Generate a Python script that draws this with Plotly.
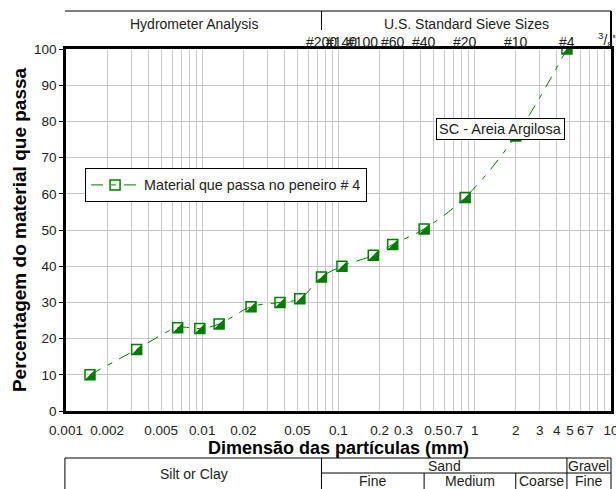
import math
import plotly.graph_objects as go

# Grain-size distribution (sieve + hydrometer)
diameter_mm = [0.0015, 0.0033, 0.0066, 0.0096, 0.0133, 0.0228, 0.0372, 0.052,
               0.075, 0.106, 0.18, 0.25, 0.425, 0.85, 2.0, 4.75]
percent_passing = [10, 17, 23, 22.8, 24, 28.8, 30, 31, 37, 40, 43, 46, 50.3, 59, 76, 100]

x_tick_vals = [0.001, 0.002, 0.005, 0.01, 0.02, 0.05, 0.1, 0.2, 0.3, 0.5, 0.7,
               1, 2, 3, 4, 5, 6, 7, 10]
x_tick_text = ["0.001", "0.002", "0.005", "0.01", "0.02", "0.05", "0.1", "0.2", "0.3",
               "0.5", "0.7", "1", "2", "3", "4", "5", "6", "7", "10"]

sieve_names = ["#200", "#140", "#100", "#60", "#40", "#20", "#10", "#4"]
sieve_mm = [0.075, 0.106, 0.15, 0.25, 0.425, 0.85, 2.0, 4.75]

GREEN = "#008000"
FONT = "Arial, Liberation Sans, sans-serif"

W, H = 616, 489
ML, MR, MT, MB = 66, 5, 49, 78
PW, PH = W - ML - MR, H - MT - MB
X_LO, X_HI = -3, 1  # log10 range


def xp(v):
    """diameter (mm) -> paper x"""
    return (math.log10(v) - X_LO) / (X_HI - X_LO)


def yp(py):
    """pixel row -> paper y"""
    return (MT + PH - py) / PH


# half-square marker: outline square + filled lower-right triangle
sq_size = 10
tri_r = (sq_size / 2) / 0.9
tri_size = 2 * tri_r
tri_shift = 0.3 * tri_r  # px offset that centres plotly's triangle-se on the square
dx = tri_shift / (PW / (X_HI - X_LO))
dy = tri_shift / (PH / 100)

fig = go.Figure()
fig.add_trace(go.Scatter(
    x=diameter_mm, y=percent_passing, mode="lines+markers",
    name="Material que passa no peneiro # 4",
    line=dict(color=GREEN, width=1, shape="spline", dash="12px,8px,5px,8px"),
    marker=dict(symbol="square-open", size=sq_size, color=GREEN,
                line=dict(color=GREEN, width=1.5)),
))
fig.add_trace(go.Scatter(
    x=diameter_mm, y=percent_passing, mode="markers", showlegend=False,
    xaxis="x2", yaxis="y2",
    marker=dict(symbol="triangle-se", size=tri_size, color="#007a00",
                line=dict(width=0)),
    hoverinfo="skip",
))

grid_minor = [m * 10 ** e for e in range(-3, 1) for m in range(2, 10)]

fig.update_layout(
    width=W, height=H,
    margin=dict(l=ML, r=MR, t=MT, b=MB, autoexpand=False),
    paper_bgcolor="white", plot_bgcolor="white",
    font=dict(family=FONT, size=13.5, color="#222"),
    showlegend=True,
    legend=dict(x=0.035, y=0.671, xanchor="left", yanchor="top",
                bgcolor="white", bordercolor="black", borderwidth=1,
                itemwidth=48, font=dict(size=14.3, color="#222")),
    xaxis=dict(
        type="log", range=[X_LO, X_HI], automargin=False,
        ticklabeloverflow="allow",
        tickmode="array", tickvals=x_tick_vals, ticktext=x_tick_text,
        tickangle=0, tickfont=dict(size=13.5),
        showgrid=True, gridcolor="#c8c8c8", gridwidth=1,
        minor=dict(tickmode="array", tickvals=grid_minor, showgrid=True,
                   gridcolor="#c8c8c8", gridwidth=1, ticks=""),
        ticks="outside", ticklen=5, tickcolor="rgba(0,0,0,0)",
        showline=True, linecolor="black", linewidth=2.5, mirror=True,
        zeroline=False,
        title=dict(text="<b>Dimensão das partículas (mm)</b>", standoff=0,
                   font=dict(size=18, color="black")),
    ),
    yaxis=dict(
        range=[0, 100], automargin=False,
        tickmode="array", tickvals=list(range(0, 101, 10)),
        tickfont=dict(size=13.5),
        showgrid=True, gridcolor="#c8c8c8", gridwidth=1,
        ticks="outside", ticklen=4, tickcolor="black",
        showline=True, linecolor="black", linewidth=2.5, mirror=True,
        zeroline=False,
        title=dict(text="<b>Percentagem do material que passa</b>", standoff=3,
                   font=dict(size=19, color="black")),
    ),
    xaxis2=dict(type="log", range=[X_LO - dx, X_HI - dx], overlaying="x",
                visible=False, automargin=False),
    yaxis2=dict(range=[dy, 100 + dy], overlaying="y", visible=False,
                automargin=False),
)

shapes = []
line_k = dict(color="black", width=1)
# header box
shapes.append(dict(type="line", xref="paper", yref="paper", x0=-0.002, x1=1.0,
                   y0=yp(11), y1=yp(11), line=line_k))
shapes.append(dict(type="line", xref="paper", yref="paper", x0=xp(0.075), x1=xp(0.075),
                   y0=yp(11), y1=yp(30), line=line_k))
shapes.append(dict(type="line", xref="paper", yref="paper", x0=1.0, x1=1.0,
                   y0=yp(11), y1=1.0, line=dict(color="black", width=2)))
# soil classification table
y_t, y_m, y_b = yp(458), yp(473), yp(489)
shapes.append(dict(type="line", xref="paper", yref="paper", x0=-0.002, x1=1.0,
                   y0=y_t, y1=y_t, line=line_k))
shapes.append(dict(type="line", xref="paper", yref="paper", x0=-0.002, x1=-0.002,
                   y0=y_t, y1=y_b, line=line_k))
shapes.append(dict(type="line", xref="paper", yref="paper", x0=xp(0.075), x1=xp(0.075),
                   y0=y_t, y1=y_b, line=line_k))
shapes.append(dict(type="line", xref="paper", yref="paper", x0=xp(0.075), x1=1.0,
                   y0=y_m, y1=y_m, line=line_k))
shapes.append(dict(type="line", xref="paper", yref="paper", x0=xp(4.75), x1=xp(4.75),
                   y0=y_t, y1=y_b, line=line_k))
shapes.append(dict(type="line", xref="paper", yref="paper", x0=1.0, x1=1.0,
                   y0=y_t, y1=y_b, line=line_k))
for v in (0.425, 2.0):
    shapes.append(dict(type="line", xref="paper", yref="paper", x0=xp(v), x1=xp(v),
                       y0=y_m, y1=y_b, line=line_k))
fig.update_layout(shapes=shapes)

ann = []
hdr_y = yp(24)
ann.append(dict(text="Hydrometer Analysis", x=(0 + xp(0.075)) / 2, y=hdr_y))
ann.append(dict(text="U.S. Standard Sieve Sizes", x=(xp(0.075) + 1) / 2, y=hdr_y))
for name, mm in zip(sieve_names, sieve_mm):
    ann.append(dict(text=name, x=xp(mm), y=yp(42)))
ann.append(dict(text="<sup>3</sup>/<sub>8</sub>\"", x=xp(9.5), y=yp(40)))
# table labels
ann.append(dict(text="Silt or Clay", x=xp(0.075) / 2, y=yp(474)))
ann.append(dict(text="Sand", x=(xp(0.075) + xp(4.75)) / 2, y=yp(465.5)))
ann.append(dict(text="Gravel", x=(xp(4.75) + 1) / 2, y=yp(465.5)))
row2 = [("Fine", 0.075, 0.425), ("Medium", 0.425, 2.0), ("Coarse", 2.0, 4.75)]
for t, a, b in row2:
    ann.append(dict(text=t, x=(xp(a) + xp(b)) / 2, y=yp(481.5)))
ann.append(dict(text="Fine", x=(xp(4.75) + 1) / 2, y=yp(481.5)))

annotations = [dict(a, xref="paper", yref="paper", xanchor="center", yanchor="middle",
                    showarrow=False, font=dict(size=14, color="#222")) for a in ann]
annotations.append(dict(text="SC - Areia Argilosa", xref="x", yref="y",
                        x=0.1853, y=77.9, showarrow=False,
                        xanchor="center", yanchor="middle",
                        bgcolor="white", bordercolor="black", borderwidth=1,
                        borderpad=2, font=dict(size=14.5, color="#222")))
fig.update_layout(annotations=annotations)

fig.write_html("out.html")
